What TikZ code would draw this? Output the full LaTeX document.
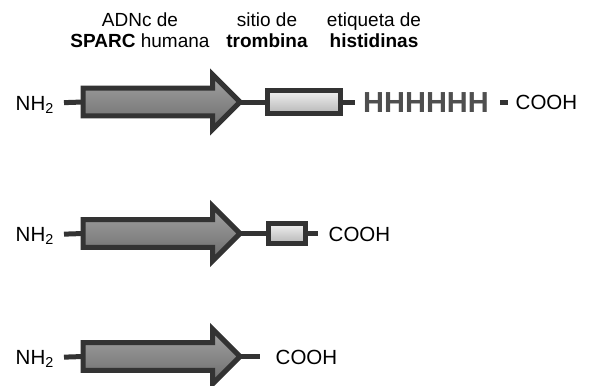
\documentclass[tikz,border=0pt]{standalone}
\usepackage{fontspec}
\setmainfont{Liberation Sans}
\definecolor{edge}{HTML}{333333}
\definecolor{hiscol}{HTML}{4F4F4F}
\tikzset{
  link/.style={draw=edge,line width=5pt},
  gene/.style={draw=edge,line width=5pt,line join=miter,top color=black!36,bottom color=black!58},
  sitebox/.style={draw=edge,line width=5pt,top color=black!6,bottom color=black!28,inner sep=0pt},
  lbl/.style={font=\fontsize{20.5}{22}\selectfont,inner sep=0pt,text height=14.7pt,text depth=0pt},
  head/.style={font=\fontsize{19}{20.5}\selectfont,align=center,inner sep=0pt}
}
\begin{document}
\begin{tikzpicture}[x=1pt,y=-1pt]
	\useasboundingbox (0,0) rectangle (593,385);
	\def\xl{83}
	\def\xh{212.5}
	\def\xt{240}
	\def\bw{13.8}
	\def\hw{27.5}
	% headings
	\node[head] (hsparc) at (140,30) {ADNc de\\\textbf{SPARC} humana};
	\node[head] (hthr) at (267,30) {sitio de\\\textbf{trombina}};
	\node[head] (hhis) at (374,30) {etiqueta de\\\textbf{histidinas}};
	% SPARC arrows
	\foreach \r/\y in {1/102,2/233.5,3/356.5}{
		\draw[gene] (\xl,\y-\bw) -- (\xh,\y-\bw) -- (\xh,\y-\hw) -- (\xt,\y) -- (\xh,\y+\hw) -- (\xh,\y+\bw) -- (\xl,\y+\bw) -- cycle;
		\coordinate (a\r w) at (\xl,\y);
		\coordinate (a\r e) at (\xt,\y);
		\node[lbl,anchor=east] (nh\r) at (54,\y+1) {NH\textsubscript{2}};
		\draw[link,shorten <=10pt] (nh\r.east) -- (a\r w);
	}
	% row 1
	\node[sitebox,minimum width=73,minimum height=22.4] (site1) at (304,102) {};
	\draw[link] (a1e) -- (site1.west);
	\coordinate (t1) at (355,102);
	\draw[link] (site1.east) -- (t1);
	\node[lbl,anchor=west,font=\bfseries\fontsize{29}{30}\selectfont,text=hiscol,text height=20.8pt] (his1) at (363,102) {HHHHHH};
	\node[lbl,anchor=west] (cooh1) at (515.5,102) {COOH};
	\draw[link,shorten <=11pt,shorten >=7.5pt] (his1.east) -- (cooh1.west);
	% row 2
	\node[sitebox,minimum width=37.6,minimum height=19.3] (site2) at (287,233.5) {};
	\draw[link] (a2e) -- (site2.west);
	\coordinate (t2) at (318,233.5);
	\draw[link] (site2.east) -- (t2);
	\node[lbl,anchor=west] (cooh2) at (328.5,234.5) {COOH};
	% row 3
	\coordinate (t3) at (260,356.5);
	\draw[link] (a3e) -- (t3);
	\node[lbl,anchor=west] (cooh3) at (275.5,357.5) {COOH};
\end{tikzpicture}
\end{document}
